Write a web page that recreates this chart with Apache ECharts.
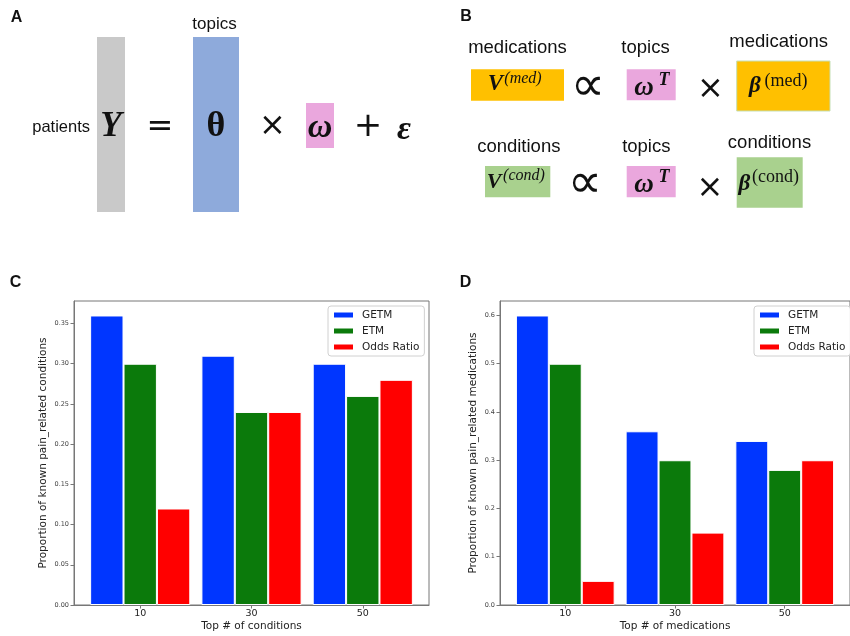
<!DOCTYPE html>
<html>
<head>
<meta charset="utf-8">
<script src="https://cdn.jsdelivr.net/npm/echarts@6/dist/echarts.min.js"></script>
<style>html,body{margin:0;padding:0;background:#fff}#c{width:850px;height:636px}</style>
</head>
<body>
<div id="c"></div>
<script>
// ---- data ----
const seriesNames = ['GETM', 'ETM', 'Odds Ratio'];
const condCategories = ['10', '30', '50'];
const condGETM = [0.36, 0.31, 0.30];
const condETM = [0.30, 0.24, 0.26];
const condOdds = [0.12, 0.24, 0.28];
const condTicks = [0, 0.05, 0.10, 0.15, 0.20, 0.25, 0.30, 0.35];

const medCategories = ['10', '30', '50'];
const medGETM = [0.60, 0.36, 0.34];
const medETM = [0.50, 0.30, 0.28];
const medOdds = [0.05, 0.15, 0.30];
const medTicks = [0, 0.1, 0.2, 0.3, 0.4, 0.5, 0.6];

const COLORS = ['#0036ff', '#0b7a0b', '#ff0000'];
const SANS = 'DejaVu Sans';
const ARIAL = 'Liberation Sans';
const SERIF = 'Liberation Serif';

const chart = echarts.init(document.getElementById('c'), null, {renderer: 'canvas'});

function pts(cats, vals) { return cats.map((c, i) => [i, vals[i]]); }

function barSeries(name, idx, cats, vals, color) {
  return {
    type: 'bar', name: name, xAxisIndex: idx, yAxisIndex: idx,
    data: pts(cats, vals),
    barGap: '0%', barCategoryGap: '10%',
    itemStyle: {color: color, borderColor: '#ffffff', borderWidth: 1},
    emphasis: {disabled: true}
  };
}

function xAx(idx, cats, title) {
  const n = cats.map((c, i) => i);
  return {
    type: 'value', gridIndex: idx, min: -0.595, max: cats.length - 1 + 0.595,
    name: title, nameLocation: 'middle', nameGap: 16,
    nameTextStyle: {fontFamily: SANS, fontSize: 10.5, color: '#222'},
    axisLine: {show: true, onZero: false, lineStyle: {color: '#777'}},
    axisTick: {show: true, length: 3.5, customValues: n, lineStyle: {color: '#777'}},
    axisLabel: {customValues: n, formatter: v => cats[Math.round(v)], fontFamily: SANS, fontSize: 9.5, color: '#222', margin: 4},
    splitLine: {show: false}
  };
}

function yAx(idx, max, ticks, digits, title, gap) {
  return {
    type: 'value', gridIndex: idx, min: 0, max: max,
    name: title, nameLocation: 'middle', nameGap: gap,
    nameTextStyle: {fontFamily: SANS, fontSize: 10.5, color: '#222'},
    axisLine: {show: true, onZero: false, lineStyle: {color: '#777'}},
    axisTick: {show: true, length: 3.5, customValues: ticks, lineStyle: {color: '#777'}},
    axisLabel: {customValues: ticks, formatter: v => v.toFixed(digits), fontFamily: SANS, fontSize: 6.5, color: '#444', margin: 5},
    splitLine: {show: false}
  };
}

function legend(left) {
  return {
    data: seriesNames, orient: 'vertical', left: left, top: 306,
    icon: 'rect', itemWidth: 21, itemHeight: 7, itemGap: 4,
    padding: [3, 5, 3, 4],
    backgroundColor: '#fff', borderColor: '#d0d0d0', borderWidth: 1, borderRadius: 3,
    textStyle: {fontFamily: SANS, fontSize: 10.5, color: '#222', lineHeight: 12, padding: [0, 0, 0, 3]},
    selectedMode: false
  };
}

// ---- diagram helpers ----
function T(x, y, text, size, opt) {
  opt = opt || {};
  return {
    type: 'text', x: x, y: y, silent: true,
    style: {
      text: text, fontSize: size, fontFamily: opt.family || ARIAL,
      fontWeight: opt.weight || 'normal', fontStyle: opt.style || 'normal',
      fill: opt.color || '#111', align: opt.align || 'center', verticalAlign: 'middle'
    }
  };
}
function R(x, y, w, h, fill, stroke) {
  return {type: 'rect', silent: true, shape: {x: x, y: y, width: w, height: h},
    style: {fill: fill, stroke: stroke || null, lineWidth: stroke ? 1 : 0}};
}
const BI = {family: SERIF, weight: 'bold', style: 'italic'};
const GRAY = '#c9c9c9', BLUE = '#8eaadb', PINK = '#eaa7dd', ORANGE = '#ffc000', GREEN = '#a9d18e';

const graphics = [
  // panel labels
  T(16.5, 18, 'A', 16, {weight: 'bold'}),
  T(466, 17, 'B', 16, {weight: 'bold'}),
  T(15.5, 283, 'C', 16, {weight: 'bold'}),
  T(465.5, 283, 'D', 16, {weight: 'bold'}),
  // panel A
  R(97, 37, 28, 175, GRAY),
  R(193, 37, 46, 175, BLUE),
  R(306, 103, 28, 45, PINK),
  T(214.5, 24, 'topics', 17),
  T(90, 127, 'patients', 16.5, {align: 'right'}),
  T(111, 127, 'Y', 35, BI),
  T(160, 128, '=', 32, {family: SANS}),
  T(216, 127, 'θ', 36, {family: SERIF, weight: 'bold'}),
  T(272.5, 127, '×', 32, {family: SANS}),
  T(320, 128, 'ω', 34, BI),
  T(368, 127, '+', 34, {family: SANS}),
  T(404, 130, 'ε', 34, BI),
  // panel B row 1
  T(517.5, 47.7, 'medications', 18.5),
  T(645.5, 47.7, 'topics', 18.5),
  T(778.7, 42.3, 'medications', 18.5),
  R(471, 69.3, 93, 31.4, ORANGE),
  T(495.5, 84, 'V', 23, BI),
  T(523, 78.5, '(med)', 16, {family: SERIF, style: 'italic'}),
  T(588, 88, '∝', 48, {family: SANS}),
  R(626.7, 69.3, 49, 31, PINK),
  T(644, 88, 'ω', 27, BI),
  T(664, 80, 'T', 18, BI),
  T(710.3, 90, '×', 32, {family: SANS}),
  R(736.7, 61, 93.3, 50, ORANGE, '#c5dfb5'),
  T(755, 86, 'β', 23, BI),
  T(786, 81, '(med)', 18, {family: SERIF}),
  // panel B row 2
  T(518.8, 146.7, 'conditions', 18.5),
  T(646.3, 146.7, 'topics', 18.5),
  T(769.5, 143.3, 'conditions', 18.5),
  R(485, 166, 65.3, 31.3, GREEN),
  T(494, 182, 'V', 22, BI),
  T(524, 176, '(cond)', 16, {family: SERIF, style: 'italic'}),
  T(585, 185, '∝', 48, {family: SANS}),
  R(626.7, 166, 49, 31.3, PINK),
  T(644, 185.5, 'ω', 27, BI),
  T(664, 177.5, 'T', 18, BI),
  T(710, 188.3, '×', 32, {family: SANS}),
  R(736.7, 157.3, 66, 50.4, GREEN),
  T(744.5, 184, 'β', 23, BI),
  T(775.5, 177.5, '(cond)', 18, {family: SERIF})
];

const option = {
  animation: false,
  backgroundColor: '#fff',
  grid: [
    {left: 74, top: 301, right: 421, bottom: 31, show: true, borderColor: '#777', borderWidth: 1, containLabel: false},
    {left: 500, top: 301, right: -5.5, bottom: 31, show: true, borderColor: '#777', borderWidth: 1, containLabel: false}
  ],
  xAxis: [
    xAx(0, condCategories, 'Top # of conditions'),
    xAx(1, medCategories, 'Top # of medications')
  ],
  yAxis: [
    yAx(0, 0.378, condTicks, 2, 'Proportion of known pain_related conditions', 25),
    yAx(1, 0.63, medTicks, 1, 'Proportion of known pain_related medications', 21)
  ],
  legend: [legend(328), legend(754)],
  series: [
    barSeries(seriesNames[0], 0, condCategories, condGETM, COLORS[0]),
    barSeries(seriesNames[1], 0, condCategories, condETM, COLORS[1]),
    barSeries(seriesNames[2], 0, condCategories, condOdds, COLORS[2]),
    barSeries(seriesNames[0], 1, medCategories, medGETM, COLORS[0]),
    barSeries(seriesNames[1], 1, medCategories, medETM, COLORS[1]),
    barSeries(seriesNames[2], 1, medCategories, medOdds, COLORS[2])
  ],
  graphic: graphics
};
chart.setOption(option);
</script>
</body>
</html>
